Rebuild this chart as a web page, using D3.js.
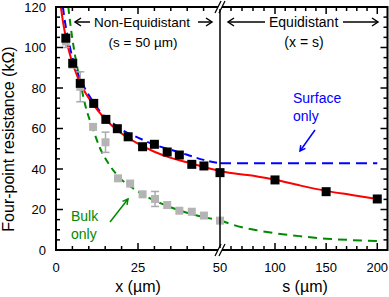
<!DOCTYPE html>
<html>
<head>
<meta charset="utf-8">
<script src="https://cdn.jsdelivr.net/npm/d3@7"></script>
<style>
  body { margin: 0; background: #fff; }
  text { font-family: Arial, "Liberation Sans", sans-serif; }
</style>
</head>
<body>
<div id="chart"></div>
<script>
// measured four-point resistance, non-equidistant part (s = 50 um), x in um
var xBlack = [3, 5.1, 7.4, 11.5, 15.2, 18.7, 22, 26.4, 30, 33.9, 37.6, 41.4, 45.1, 50];
var rBlack = [104.6, 92.2, 82.3, 72.4, 64.5, 59.9, 55.9, 51.0, 52.2, 48.4, 46.9, 42.3, 41.5, 38.2];
// equidistant part (x = s)
var sBlack = [100, 150, 200];
var rBlackS = [34.6, 28.8, 25.2];

// bulk contribution (grey squares) with error bars
var xGray = [3, 5.1, 7.4, 11.3, 15.1, 18.9, 22.6, 26.4, 30.2, 33.9, 37.6, 41.4, 45.1, 50];
var rGray = [103, 91.5, 80.6, 60.8, 53.2, 35.4, 32.8, 27.5, 25.2, 22.2, 19.4, 18.9, 17.0, 14.5];
var eGray = [3, 0, 7.4, 0, 5, 0, 0, 0, 3.7, 0, 0, 0, 0, 0];

// fit (red)
var xRed = [1.5, 2.2, 3, 4, 5, 6, 7.5, 9, 11.5, 14, 17, 20, 25, 30, 35, 40, 45, 50];
var rRed = [120, 112, 105, 98, 92.5, 88, 82, 77.5, 71.5, 66.5, 61.5, 57.5, 52.5, 48.5, 45.5, 43.3, 41, 39];
var sRed = [50, 60, 75, 85, 100, 125, 150, 175, 202];
var rRedS = [39, 38, 37, 36.2, 34.7, 31.8, 29.2, 27.2, 25];

// surface only (blue dashed)
var xBlue = [2.1, 2.8, 3.5, 5, 7.5, 10, 13.4, 17, 20, 25, 30, 35, 40, 45, 50];
var rBlue = [120, 112, 106, 95, 84, 76.5, 68.5, 63, 59.5, 55.5, 52, 49.5, 47, 44.5, 42.8];
var sBlue = [50, 200];
var rBlueS = [42.8, 42.8];

// bulk only (green dashed)
var xGreen = [3.75, 4.5, 5.5, 6.5, 7.5, 9, 11, 13.5, 16.5, 19.5, 23.5, 28, 32, 36, 43, 50];
var rGreen = [120, 110, 99, 90, 82, 71, 61, 50, 41.5, 35.5, 30.5, 26, 23, 20.5, 17, 14.8];
var sGreen = [50, 60, 70, 85, 100, 125, 150, 175, 200];
var rGreenS = [14.8, 12.8, 11.2, 9.6, 8.3, 6.8, 5.6, 4.9, 4.4];

var yTicks = [0, 20, 40, 60, 80, 100, 120];
var xTicks = [0, 25, 50];
var sTicks = [100, 150, 200];

var W = 389, H = 297;
var pLeft = 56, pTop = 7, pBottom = 250, pMid = 220, pRight = 387.5;

var svg = d3.select("#chart").append("svg")
    .attr("width", W).attr("height", H);

var xScale = d3.scaleLinear().domain([0, 50]).range([pLeft, pMid]);
var sScale = d3.scaleLinear().domain([50, 100, 210]).range([pMid, 275, pRight]);
var yScale = d3.scaleLinear().domain([0, 120]).range([pBottom, pTop]);

svg.append("clipPath").attr("id", "clip")
    .append("rect").attr("x", pLeft).attr("y", pTop)
    .attr("width", pRight - pLeft).attr("height", pBottom - pTop);

var plot = svg.append("g").attr("clip-path", "url(#clip)");

function curve(xs, ys, sc, color, dash) {
    plot.append("path")
        .datum(xs)
        .attr("fill", "none")
        .attr("stroke", color)
        .attr("stroke-width", 2)
        .attr("stroke-dasharray", dash)
        .attr("d", d3.line()
            .curve(d3.curveMonotoneX)
            .x(function(d) { return sc(d); })
            .y(function(d, i) { return yScale(ys[i]); }));
}

curve(xGreen, rGreen, xScale, "#008a00", "7,5");
curve(sGreen, rGreenS, sScale, "#008a00", "9,6");
curve(xBlue, rBlue, xScale, "#0000ff", "8,5");
curve(sBlue, rBlueS, sScale, "#0000ff", "11,6");
curve(xRed, rRed, xScale, "#ff0000", null);
curve(sRed, rRedS, sScale, "#ff0000", null);

// error bars
var eb = svg.append("g").attr("stroke", "#aaaaaa").attr("stroke-width", 1.5);
xGray.forEach(function(x, i) {
    if (!eGray[i]) return;
    var cx = xScale(x), y1 = yScale(rGray[i] - eGray[i]), y2 = yScale(rGray[i] + eGray[i]);
    eb.append("line").attr("x1", cx).attr("x2", cx).attr("y1", y1).attr("y2", y2);
    eb.append("line").attr("x1", cx - 4).attr("x2", cx + 4).attr("y1", y1).attr("y2", y1);
    eb.append("line").attr("x1", cx - 4).attr("x2", cx + 4).attr("y1", y2).attr("y2", y2);
});

svg.append("g").selectAll("rect").data(xGray).enter().append("rect")
    .attr("x", function(d) { return xScale(d) - 4; })
    .attr("y", function(d, i) { return yScale(rGray[i]) - 4; })
    .attr("width", 8).attr("height", 8)
    .attr("fill", "#b4b4b4");

svg.append("g").selectAll("rect").data(xBlack).enter().append("rect")
    .attr("x", function(d) { return xScale(d) - 4.5; })
    .attr("y", function(d, i) { return yScale(rBlack[i]) - 4.5; })
    .attr("width", 9).attr("height", 9)
    .attr("fill", "#000");

svg.append("g").selectAll("rect").data(sBlack).enter().append("rect")
    .attr("x", function(d) { return sScale(d) - 4.5; })
    .attr("y", function(d, i) { return yScale(rBlackS[i]) - 4.5; })
    .attr("width", 9).attr("height", 9)
    .attr("fill", "#000");

// ticks (inward)
var tk = svg.append("g").attr("stroke", "#000").attr("stroke-width", 1.5);
d3.range(0, 121, 5).forEach(function(v) {
    var len = v % 20 === 0 ? 7 : 4, y = yScale(v);
    tk.append("line").attr("x1", pLeft).attr("x2", pLeft + len).attr("y1", y).attr("y2", y);
    tk.append("line").attr("x1", pRight).attr("x2", pRight - len).attr("y1", y).attr("y2", y);
});
d3.range(5, 50, 5).forEach(function(v) {
    var len = v % 25 === 0 ? 7 : 4, x = xScale(v);
    tk.append("line").attr("x1", x).attr("x2", x).attr("y1", pBottom).attr("y2", pBottom - len);
    tk.append("line").attr("x1", x).attr("x2", x).attr("y1", pTop).attr("y2", pTop + len);
});
d3.range(60, 210, 10).forEach(function(v) {
    var len = v % 50 === 0 ? 7 : 4, x = sScale(v);
    tk.append("line").attr("x1", x).attr("x2", x).attr("y1", pBottom).attr("y2", pBottom - len);
    tk.append("line").attr("x1", x).attr("x2", x).attr("y1", pTop).attr("y2", pTop + len);
});

// frame
svg.append("rect").attr("x", pLeft).attr("y", pTop)
    .attr("width", pRight - pLeft).attr("height", pBottom - pTop)
    .attr("fill", "none").attr("stroke", "#000").attr("stroke-width", 2);
svg.append("line").attr("x1", pMid).attr("x2", pMid).attr("y1", pTop).attr("y2", pBottom)
    .attr("stroke", "#000").attr("stroke-width", 1.5);

// axis breaks
[pTop, pBottom].forEach(function(y) {
    svg.append("rect").attr("x", pMid - 2).attr("y", y - 2).attr("width", 4).attr("height", 4).attr("fill", "#fff");
    [-2, 2].forEach(function(dx) {
        svg.append("line")
            .attr("x1", pMid + dx - 3).attr("y1", y + 6)
            .attr("x2", pMid + dx + 3).attr("y2", y - 6)
            .attr("stroke", "#000").attr("stroke-width", 1.3);
    });
});

// tick labels
var lab = svg.append("g").attr("font-size", 13).attr("fill", "#000");
yTicks.forEach(function(v) {
    lab.append("text").attr("x", 46).attr("y", yScale(v) + 4.5)
        .attr("text-anchor", "end").text(v);
});
xTicks.forEach(function(v) {
    lab.append("text").attr("x", xScale(v)).attr("y", 272)
        .attr("text-anchor", "middle").text(v);
});
sTicks.forEach(function(v) {
    lab.append("text").attr("x", sScale(v)).attr("y", 272)
        .attr("text-anchor", "middle").text(v);
});

// axis titles
svg.append("text").attr("x", xScale(25)).attr("y", 292)
    .attr("text-anchor", "middle").attr("font-size", 16).text("x (µm)");
svg.append("text").attr("x", 305).attr("y", 292)
    .attr("text-anchor", "middle").attr("font-size", 16).text("s (µm)");
svg.append("text")
    .attr("transform", "translate(14,139) rotate(-90)")
    .attr("text-anchor", "middle").attr("font-size", 16)
    .text("Four-point resistance (kΩ)");

// region labels with arrows
function arrow(x1, x2, y, color) {
    var dir = x2 > x1 ? 1 : -1;
    var g = svg.append("g").attr("stroke", color || "#000").attr("stroke-width", 1.5).attr("fill", "none");
    g.append("line").attr("x1", x1).attr("x2", x2).attr("y1", y).attr("y2", y);
    g.append("path").attr("d", "M" + (x2 - dir * 6) + "," + (y - 4) + "L" + x2 + "," + y + "L" + (x2 - dir * 6) + "," + (y + 4));
}
arrow(90, 75, 22);
arrow(198, 212, 22);
arrow(265, 228, 22);
arrow(343, 378, 22);

svg.append("text").attr("x", 94).attr("y", 27).attr("font-size", 13.5).text("Non-Equidistant");
svg.append("text").attr("x", 143).attr("y", 47).attr("text-anchor", "middle").attr("font-size", 13.5).text("(s = 50 µm)");
svg.append("text").attr("x", 269).attr("y", 27).attr("font-size", 14).text("Equidistant");
svg.append("text").attr("x", 304).attr("y", 47).attr("text-anchor", "middle").attr("font-size", 14).text("(x = s)");

svg.append("text").attr("x", 293).attr("y", 103).attr("font-size", 14).attr("fill", "#0000ff").text("Surface");
svg.append("text").attr("x", 293).attr("y", 121).attr("font-size", 14).attr("fill", "#0000ff").text("only");
svg.append("text").attr("x", 71).attr("y", 221).attr("font-size", 14).attr("fill", "#008a00").text("Bulk");
svg.append("text").attr("x", 71).attr("y", 239).attr("font-size", 14).attr("fill", "#008a00").text("only");

function slantArrow(x1, y1, x2, y2, color) {
    var a = Math.atan2(y2 - y1, x2 - x1), h = 6;
    var g = svg.append("g").attr("stroke", color).attr("stroke-width", 1.5).attr("fill", "none");
    g.append("line").attr("x1", x1).attr("y1", y1).attr("x2", x2).attr("y2", y2);
    g.append("path").attr("d",
        "M" + (x2 - h * Math.cos(a - 0.5)) + "," + (y2 - h * Math.sin(a - 0.5)) +
        "L" + x2 + "," + y2 +
        "L" + (x2 - h * Math.cos(a + 0.5)) + "," + (y2 - h * Math.sin(a + 0.5)));
}
slantArrow(315, 130, 300, 151, "#0000ff");
slantArrow(110, 222, 128, 199, "#008a00");
</script>
</body>
</html>
